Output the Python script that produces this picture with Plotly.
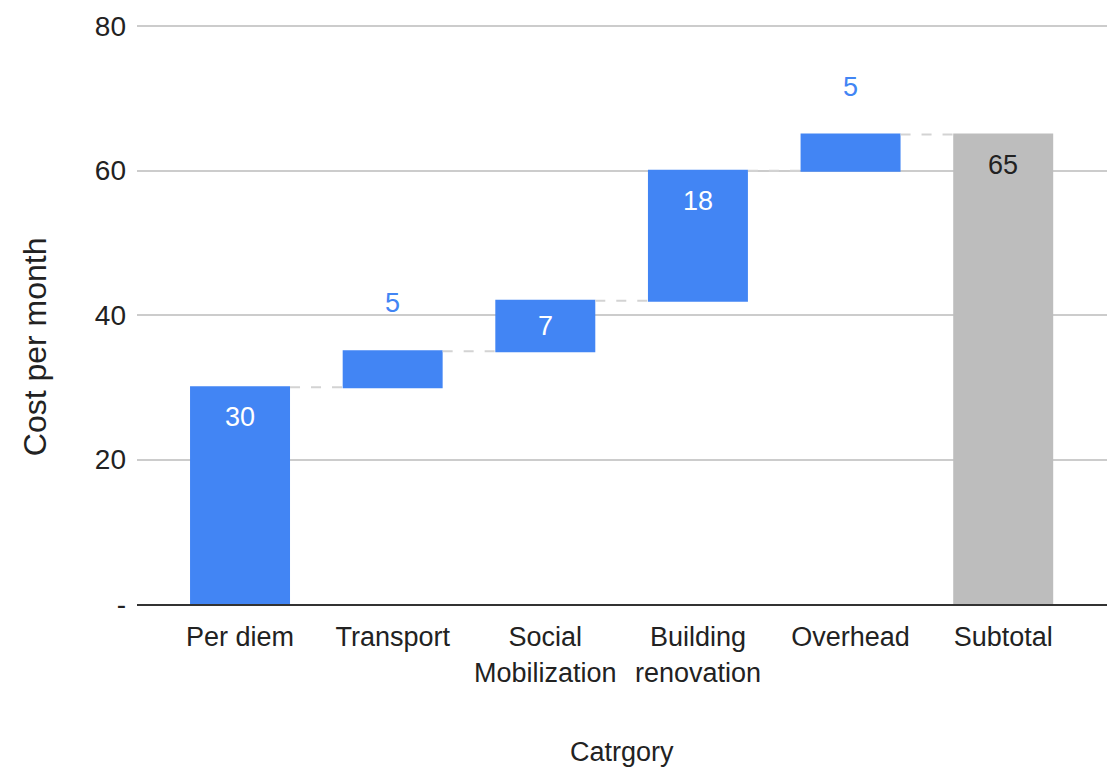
import plotly.graph_objects as go

categories = ["Per diem", "Transport", "Social<br>Mobilization", "Building<br>renovation", "Overhead", "Subtotal"]
values = [30, 5, 7, 18, 5, 65]
measures = ["relative", "relative", "relative", "relative", "relative", "total"]
label_texts = ["30", "5", "7", "18", "5", "65"]
y_tickvals = [0, 20, 40, 60, 80]
y_ticktext = ["-", "20", "40", "60", "80"]

BLUE = "#4285F4"
GRAY = "#BDBDBD"
FONT = "Liberation Sans Narrow, Liberation Sans, Arial Narrow, sans-serif"

fig = go.Figure()
fig.add_trace(go.Waterfall(
    x=categories, y=values, measure=measures,
    width=0.655,
    increasing=dict(marker=dict(color=BLUE)),
    decreasing=dict(marker=dict(color=BLUE)),
    totals=dict(marker=dict(color=GRAY)),
    connector=dict(line=dict(color="#D3D3D3", width=2, dash="10px,11px")),
    textinfo="none", hoverinfo="skip", showlegend=False,
))

# labels from data
annotations = []
running = 0
for i, (cat, v, m, t) in enumerate(zip(categories, values, measures, label_texts)):
    if m == "total":
        start, end = 0, v
        running = v
    else:
        start, end = running, running + v
        running = end
    if v <= 5:
        annotations.append(dict(x=i, y=end, text=t, showarrow=False, yanchor="middle",
                                yshift=48, font=dict(color=BLUE, size=27, family=FONT)))
    elif v < 10:
        annotations.append(dict(x=i, y=(start + end) / 2, text=t, showarrow=False, yanchor="middle",
                                font=dict(color="white", size=27, family=FONT)))
    else:
        col = "#222222" if m == "total" else "white"
        annotations.append(dict(x=i, y=end, text=t, showarrow=False, yanchor="middle",
                                yshift=-30, font=dict(color=col, size=27, family=FONT)))

annotations.append(dict(xref="paper", yref="paper", x=-0.105, y=0.443, text="Cost per month",
                        textangle=-90, showarrow=False, xanchor="center", yanchor="middle",
                        font=dict(size=32, color="#222222", family="Liberation Sans, Arial, sans-serif")))
annotations.append(dict(xref="paper", yref="paper", x=0.5, y=-0.255, text="Catrgory",
                        showarrow=False, xanchor="center", yanchor="middle",
                        font=dict(size=27, color="#222222", family=FONT)))

fig.update_layout(
    width=1112, height=769,
    margin=dict(l=137, r=5, t=24, b=165),
    paper_bgcolor="white", plot_bgcolor="white",
    font=dict(family=FONT, size=27, color="#222222"),
    annotations=annotations,
    xaxis=dict(
        type="category", range=[-0.675, 5.68],
        showgrid=False, showline=True, linecolor="#333333", linewidth=2,
        ticks="", ticklabelstandoff=8,
        tickfont=dict(size=27, color="#222222", family=FONT),
    ),
    yaxis=dict(
        range=[0, 80.3], tickvals=y_tickvals, ticktext=y_ticktext,
        showgrid=True, gridcolor="#CCCCCC", gridwidth=2,
        zeroline=False, showline=False, ticks="", ticklabelstandoff=10,
        tickfont=dict(size=28, color="#222222", family=FONT),
    ),
)

fig.write_html("out.html")
